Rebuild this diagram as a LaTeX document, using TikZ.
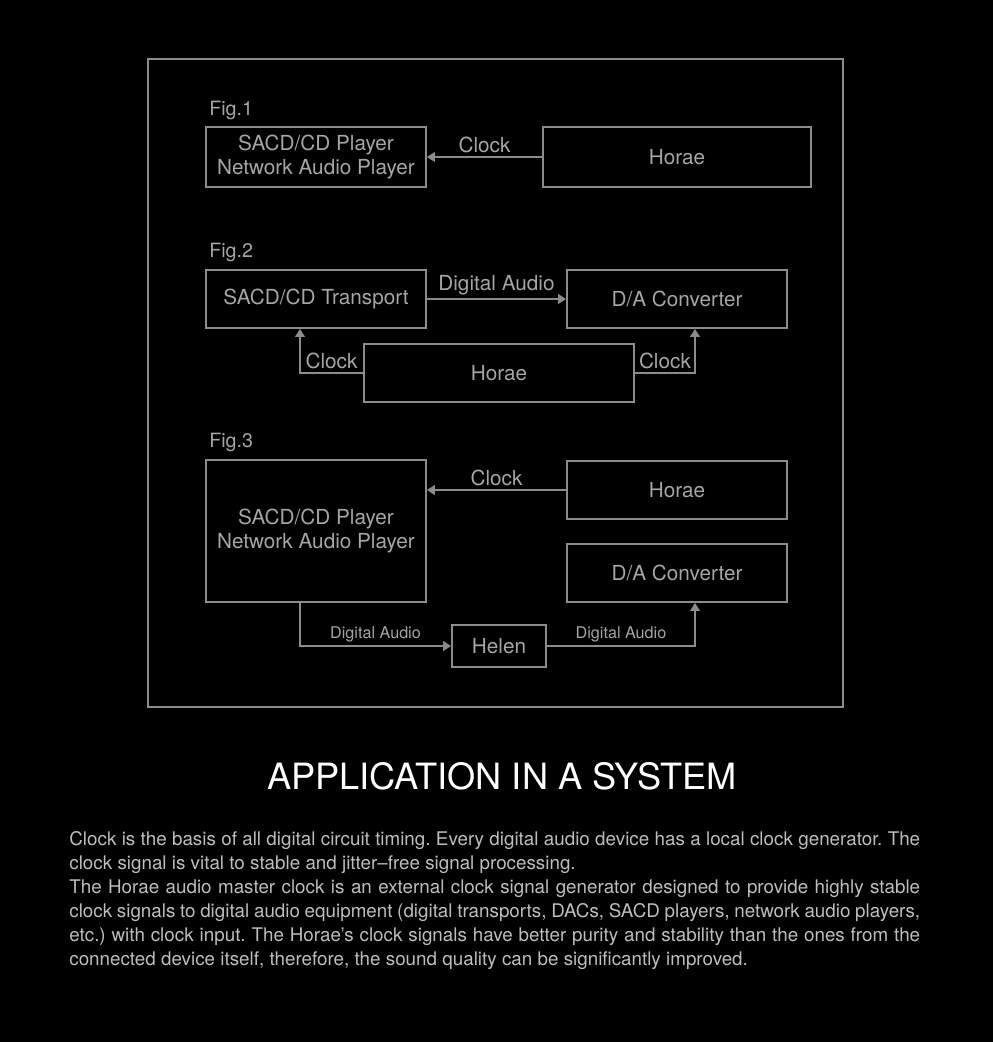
\documentclass[tikz,border=0pt]{standalone}
\usepackage{fontspec}
\setmainfont{TeX Gyre Heros}
\usetikzlibrary{arrows.meta,positioning,calc}

\definecolor{lineGray}{HTML}{8C8C8C}
\definecolor{labelGray}{HTML}{A6A6A6}
\definecolor{bodyGray}{HTML}{BEBEBE}

\begin{document}
\begin{tikzpicture}[
    x=0.02cm, y=-0.02cm,
    >={Triangle[length=4.5pt,width=5.5pt]},
    unit/.style={
        rectangle,
        draw=lineGray,
        line width=1.1pt,
        text=labelGray,
        font=\fontsize{11.8}{13.6}\selectfont,
        align=center,
        inner sep=0pt
    },
    sig/.style={
        ->,
        draw=lineGray,
        line width=1.1pt
    },
    tag/.style={
        text=labelGray,
        font=\fontsize{11.8}{13.6}\selectfont,
        inner sep=2pt
    },
    smalltag/.style={
        text=labelGray,
        font=\fontsize{9.2}{11}\selectfont,
        inner sep=2pt
    },
    figlabel/.style={
        anchor=west,
        text=labelGray,
        font=\fontsize{11.2}{13}\selectfont,
        inner sep=0pt
    }
]

% Background and page size
\fill[black] (0,0) rectangle (993,1042);
\useasboundingbox (0,0) rectangle (993,1042);

% Outer frame
\draw[lineGray, line width=1pt] (148,59) rectangle (843,707);

% Fig.1
\node[figlabel] (fig1) at (209,110) {Fig.1};
\node[unit, minimum width=4.4cm, minimum height=1.2cm] (player1) at (316,157) {SACD/CD Player\\Network Audio Player};
\node[unit, minimum width=5.36cm, minimum height=1.2cm] (horae1) at (677,157) {Horae};
\draw[sig] (horae1) -- node[tag, above] {Clock} (player1);

% Fig.2
\node[figlabel] (fig2) at (209,252) {Fig.2};
\node[unit, minimum width=4.4cm, minimum height=1.16cm] (transport2) at (316,299) {SACD/CD Transport};
\node[unit, minimum width=4.4cm, minimum height=1.16cm] (dac2) at (677,299) {D/A Converter};
\node[unit, minimum width=5.4cm, minimum height=1.16cm] (horae2) at (499,373) {Horae};
\draw[sig] (transport2) -- node[tag, above] {Digital Audio} (dac2);

\coordinate (clockL) at (300,373);
\coordinate (clockR) at (695,373);
\draw[sig] (horae2.west) -- node[tag, above] {Clock} (clockL) -- (clockL |- transport2.south);
\draw[sig] (horae2.east) -- node[tag, above] {Clock} (clockR) -- (clockR |- dac2.south);

% Fig.3
\node[figlabel] (fig3) at (209,442) {Fig.3};
\node[unit, minimum width=4.4cm, minimum height=2.84cm] (player3) at (316,531) {SACD/CD Player\\Network Audio Player};
\node[unit, minimum width=4.4cm, minimum height=1.16cm] (horae3) at (677,490) {Horae};
\node[unit, minimum width=4.4cm, minimum height=1.16cm] (dac3) at (677,573) {D/A Converter};
\node[unit, minimum width=1.88cm, minimum height=0.84cm] (helen) at (499,646) {Helen};
\draw[sig] (horae3.west) -- node[tag, above] {Clock} (horae3.west -| player3.east);

\coordinate (audioL) at (300,646);
\coordinate (audioR) at (695,646);
\draw[sig] (audioL |- player3.south) -- (audioL) -- node[smalltag, above] {Digital Audio} (helen.west);
\draw[sig] (helen.east) -- node[smalltag, above] {Digital Audio} (audioR) -- (audioR |- dac3.south);

% Title and description
\node[text=white, font=\fontsize{20.6}{24}\selectfont, inner sep=0pt] (title) at (502,776) {APPLICATION IN A SYSTEM};

\node[anchor=north west, inner sep=0pt, text=bodyGray, font=\fontsize{10.7}{13.66}\selectfont] (body) at (69,831) {%
\parbox{17.02cm}{\frenchspacing\spaceskip=0.28em plus 0.5em minus 0.08em
Clock is the basis of all digital circuit timing. Every digital audio device has a local clock generator. The\linebreak
clock signal is vital to stable and jitter--free signal processing.\par
\noindent The Horae audio master clock is an external clock signal generator designed to provide highly stable\linebreak
clock signals to digital audio equipment (digital transports, DACs, SACD players, network audio players,\linebreak
etc.) with clock input. The Horae’s clock signals have better purity and stability than the ones from the\linebreak
connected device itself, therefore, the sound quality can be significantly improved.}};

\end{tikzpicture}
\end{document}
